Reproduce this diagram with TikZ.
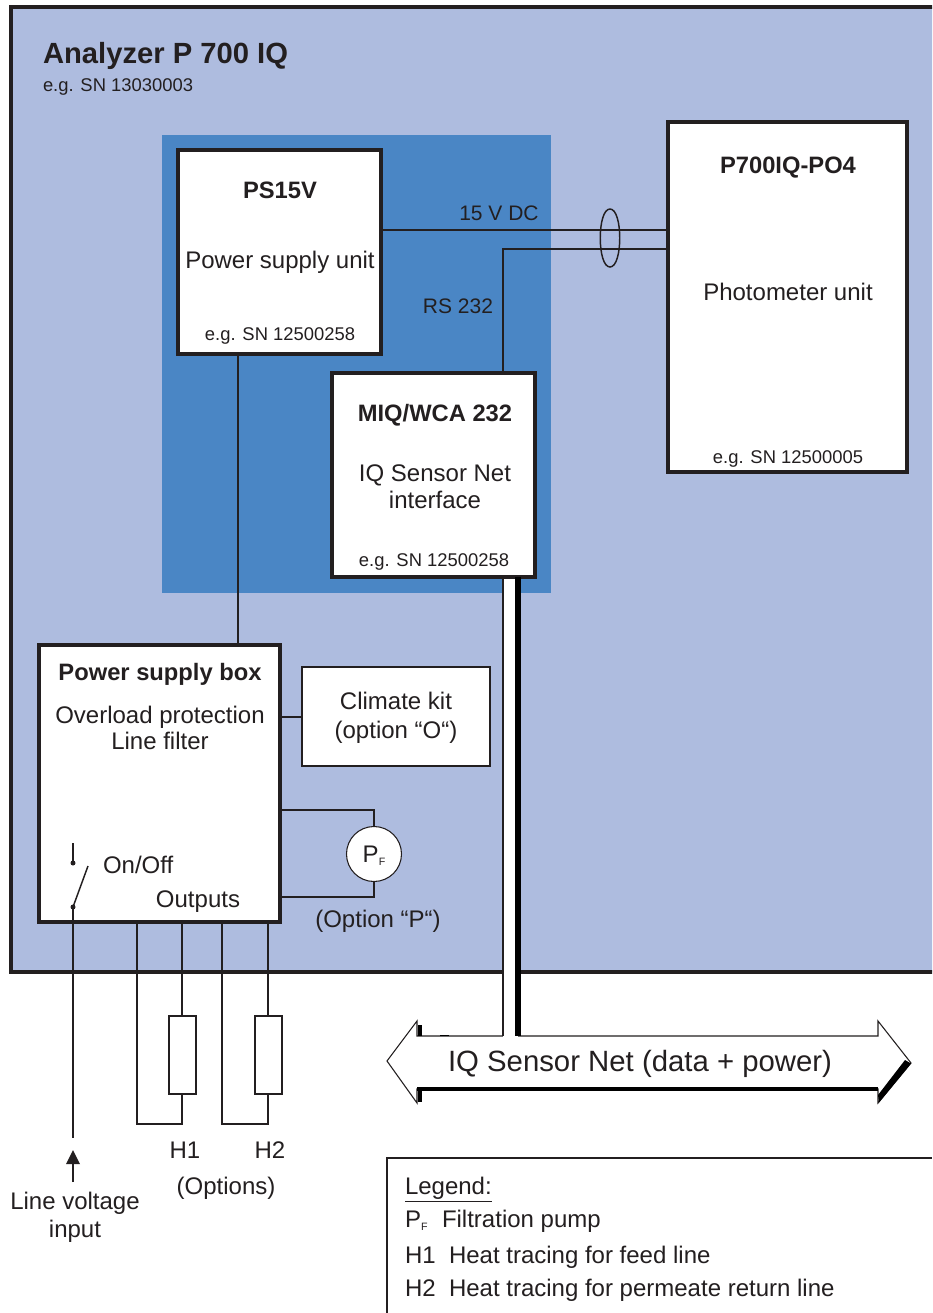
\documentclass[tikz,border=0pt]{standalone}
\usepackage{fontspec}
\setmainfont{Liberation Sans}
\usetikzlibrary{calc}
\definecolor{ink}{HTML}{231F20}
\definecolor{bgblue}{HTML}{AEBCDF}
\definecolor{midblue}{HTML}{4A86C5}
\newcommand{\fpx}[1]{\fontsize{#1}{#1}\selectfont}
\newcommand{\PF}{P\raisebox{-.25ex}{\fontsize{8}{8}\selectfont F}}
\tikzset{
 thick box/.style={draw=ink,fill=white,line width=3pt,outer sep=0pt,inner sep=0pt},
 thin box/.style={draw=ink,fill=white,line width=.8pt,outer sep=0pt,inner sep=0pt},
 wire/.style={draw=ink,line width=1.1pt},
 lbl/.style={text=ink,inner sep=0pt,outer sep=0pt,font=\fpx{18},align=center,text height=13pt,text depth=0pt},
 snlbl/.style={lbl,font=\fpx{13.8},text height=10pt},
 boldlbl/.style={lbl,font=\fpx{17.8}\bfseries,text height=12.8pt},
 midlbl/.style={lbl,font=\fpx{15.75},text height=11.3pt},
 biglbl/.style={lbl,text height=15.8pt},
 x=0.75pt,y=-0.75pt
}
\begin{document}
\begin{tikzpicture}
\useasboundingbox (0,0) rectangle (932,1313);
\clip (0,0) rectangle (932,1313);
\fill[white] (0,0) rectangle (932,1313);
% panels
\node[draw=ink,fill=bgblue,line width=3pt,outer sep=0pt,inner sep=0pt,anchor=north west,minimum width=960*0.75pt,minimum height=964*0.75pt] (cabinet) at (10.5,7.5) {};
\node[fill=midblue,outer sep=0pt,inner sep=0pt,anchor=north west,minimum width=389*0.75pt,minimum height=458*0.75pt] (carrier) at (162,135) {};
% boxes
\node[thick box,anchor=north west,minimum width=203*0.75pt,minimum height=203.5*0.75pt] (ps) at (178,150) {};
\node[thick box,anchor=north west,minimum width=203*0.75pt,minimum height=203.5*0.75pt] (miq) at (332,373) {};
\node[thick box,anchor=north west,minimum width=238.5*0.75pt,minimum height=349.5*0.75pt] (photo) at (668,122) {};
\node[thick box,anchor=north west,minimum width=240.5*0.75pt,minimum height=276.5*0.75pt] (psb) at (39,645) {};
\node[thin box,anchor=north west,minimum width=188*0.75pt,minimum height=99*0.75pt] (climate) at (302,667) {};
\node[thin box,circle,minimum size=55*0.75pt] (pump) at (374,854) {};
\node[thin box,anchor=north west,minimum width=27*0.75pt,minimum height=78*0.75pt] (h1) at (169,1016) {};
\node[thin box,anchor=north west,minimum width=27*0.75pt,minimum height=78*0.75pt] (h2) at (255,1016) {};
% coordinates for free ends
\coordinate (cL) at (photo.west |- 0,230);
\coordinate (rsL) at (photo.west |- 0,249);
\coordinate (rsC) at (503,249);
\coordinate (rsB) at (503,373);
\coordinate (sw1) at (73,843);
\coordinate (sw2) at (73,863);
\coordinate (sw3) at (73,907);
\coordinate (sw4) at (88,866);
\coordinate (lineEnd) at (73,1138);
\coordinate (arrB) at (73,1182);
\coordinate (arrT) at (73,1150);
% connectors
\draw[wire] (ps.east |- 0,230) -- (cL);
\draw[wire] (rsB) -- (rsC) -- (rsL);
\draw[wire] (ps.south -| 238,0) -- (psb.north -| 238,0);
\draw[wire] (psb.east |- 0,717) -- (climate.west |- 0,717);
\draw[wire] (psb.east |- 0,810) -- (pump.north |- 0,810) -- (pump.north);
\draw[wire] (psb.east |- 0,897) -- (pump.south |- 0,897) -- (pump.south);
\draw[wire] (610,209) .. controls (597,209) and (597,267) .. (610,267) .. controls (623,267) and (623,209) .. (610,209);
% outputs
\draw[wire] (137,922) -- (137,1124) -- (182,1124) -- (h1.south -| 182,0);
\draw[wire] (182,922) -- (h1.north -| 182,0);
\draw[wire] (222,922) -- (222,1124) -- (268,1124) -- (h2.south -| 268,0);
\draw[wire] (268,922) -- (h2.north -| 268,0);
% switch
\draw[wire] (sw1) -- (sw2);
\fill[ink] (sw2) circle (2.5);
\fill[ink] (sw3) circle (2.5);
\draw[wire] (sw3) -- (sw4);
\draw[wire] (sw3) -- (lineEnd);
\draw[wire] (arrB) -- (73,1160);
\fill[ink] (arrT) -- (80,1164) -- (66,1164) -- cycle;
% bus arrow
\fill[white,draw=ink,line width=.8pt] (387,1061) -- (417,1021) -- (417,1036) -- (878,1036) -- (878,1021) -- (911,1063) -- (878,1103) -- (878,1089) -- (417,1089) -- (417,1103) -- cycle;
\draw[black,line width=3.5pt] (417,1089) -- (878,1089);
\fill[black] (911,1063.5) -- (879,1102.5) -- (878,1095) -- (905,1060) -- cycle;
\draw[black,line width=3pt] (419.5,1025) -- (419.5,1036);
\draw[black,line width=3pt] (419.5,1089) -- (419.5,1102);
\draw[black,line width=1.4pt] (440,1035.5) -- (449,1035.5);
% net tails
\fill[white] (503,579) rectangle (518,1037);
\draw[wire] (miq.south -| 503,0) -- (503,1036);
\draw[black,line width=4.5pt] (miq.south -| 518,0) -- (518,1036);
% texts
\node[biglbl,font=\fpx{21.9}\bfseries,anchor=west] (title) at (43,53) {Analyzer P 700 IQ};
\node[snlbl,anchor=west] (titlesn) at (43,85) {e.g. SN 13030003};
\node[boldlbl] (t1) at (280,190) {PS15V};
\node[lbl] (t2) at (280,260) {Power supply unit};
\node[snlbl] (t3) at (280,334) {e.g. SN 12500258};
\node[midlbl] (t4) at (499,213) {15 V DC};
\node[midlbl] (t5) at (458,306) {RS 232};
\node[boldlbl] (t6) at (435,413) {MIQ/WCA 232};
\node[lbl] (t7) at (435,473) {IQ Sensor Net};
\node[lbl] (t8) at (435,500) {interface};
\node[snlbl] (t9) at (434,560) {e.g. SN 12500258};
\node[boldlbl] (t10) at (788,165) {P700IQ-PO4};
\node[lbl] (t11) at (788,292) {Photometer unit};
\node[snlbl] (t12) at (788,457) {e.g. SN 12500005};
\node[boldlbl] (t13) at (160,672) {Power supply box};
\node[lbl] (t14) at (160,715) {Overload protection};
\node[lbl] (t15) at (160,741) {Line filter};
\node[lbl] (t16) at (396,701) {Climate kit};
\node[lbl] (t17) at (396,730) {(option “O“)};
\node[lbl] at (pump) {\PF};
\node[lbl] (t18) at (378,919) {(Option “P“)};
\node[lbl,anchor=west] (t19) at (103,865) {On/Off};
\node[lbl] (t20) at (198,899) {Outputs};
\node[lbl] (t21) at (185,1150) {H1};
\node[lbl] (t22) at (270,1150) {H2};
\node[lbl] (t23) at (226,1186) {(Options)};
\node[lbl] (t24) at (75,1201) {Line voltage};
\node[lbl] (t25) at (75,1229) {input};
\node[biglbl,font=\fpx{22}] (t26) at (640,1061) {IQ Sensor Net (data + power)};
% legend
\draw[draw=ink,line width=.8pt] (387,1313) -- (387,1158) -- (932,1158);
\node[lbl,anchor=west] (l1) at (405,1186) {\underline{Legend:}};
\node[lbl,anchor=west] (l2) at (405,1219) {\PF};
\node[lbl,anchor=west] (l2b) at (442,1219) {Filtration pump};
\node[lbl,anchor=west] (l3) at (405,1255) {H1};
\node[lbl,anchor=west] (l3b) at (449,1255) {Heat tracing for feed line};
\node[lbl,anchor=west] (l4) at (405,1288) {H2};
\node[lbl,anchor=west] (l4b) at (449,1288) {Heat tracing for permeate return line};
\end{tikzpicture}
\end{document}
